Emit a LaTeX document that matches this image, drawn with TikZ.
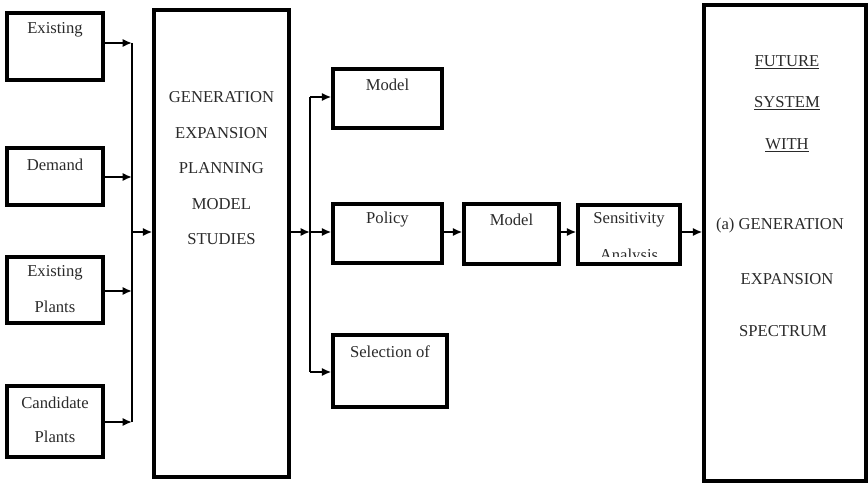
\documentclass[tikz,border=0pt]{standalone}
\usepackage{fontspec}
\setmainfont{Liberation Serif}
\usetikzlibrary{arrows.meta}
\definecolor{txtc}{HTML}{2A2A2A}
\tikzset{
  box/.style={draw=black, line width=2.8pt, inner sep=0pt},
  txt/.style={text=txtc, font=\fontsize{14.2}{16}\selectfont, inner sep=0pt},
  conn/.style={line width=2.3pt, -{Latex[length=8pt,width=7pt]}},
  bus/.style={line width=2.3pt}
}
\newcommand{\bx}[5]{\node[box, minimum width={(#4-#2)*0.03cm}, minimum height={(#5-#3)*0.03cm}] (#1) at ({(#2+#4)/2},{(#3+#5)/2}) {};}
\begin{document}
\begin{tikzpicture}[x=0.03cm,y=-0.03cm]
\useasboundingbox (0,0) rectangle (868,484);
% left input boxes
\bx{ex}{7}{13}{103}{80}
\bx{dem}{7}{148}{103}{205}
\bx{exp}{7}{257}{103}{323}
\bx{cand}{7}{386}{103}{457}
\node[txt] (tex) at (55,30) {Existing};
\node[txt] (tdem) at (55,165) {Demand};
\node[txt] (texp1) at (55,273) {Existing};
\node[txt] (texp2) at (55,307) {Plants};
\node[txt] (tcand1) at (55,403) {Candidate};
\node[txt] (tcand2) at (55,437) {Plants};
% left bus
\coordinate (b1) at (132,43);
\coordinate (b2) at (132,177);
\coordinate (b3) at (132,291);
\coordinate (b4) at (132,422);
\coordinate (bm) at (132,232);
\draw[bus] (b1) -- (b4);
\draw[conn] (ex.east |- b1) -- (b1);
\draw[conn] (dem.east |- b2) -- (b2);
\draw[conn] (exp.east |- b3) -- (b3);
\draw[conn] (cand.east |- b4) -- (b4);
% main box
\bx{main}{154}{10}{289}{477}
\draw[conn] (bm) -- (main.west |- bm);
\node[txt] (m1) at (221.5,97) {GENERATION};
\node[txt] (m2) at (221.5,133) {EXPANSION};
\node[txt] (m3) at (221.5,168) {PLANNING};
\node[txt] (m4) at (221.5,204) {MODEL};
\node[txt] (m5) at (221.5,239) {STUDIES};
% middle bus
\coordinate (c0) at (310,232);
\coordinate (c1) at (310,97);
\coordinate (c3) at (310,372);
\draw[conn] (main.east |- c0) -- (c0);
\draw[bus] (c1) -- (c3);
\bx{mod1}{333}{69}{442}{128}
\bx{pol}{333}{204}{442}{263}
\bx{mod2}{464}{204}{559}{264}
\bx{sens}{578}{205}{680}{264}
\bx{sel}{333}{335}{447}{407}
\draw[conn] (c1) -- (mod1.west |- c1);
\draw[conn] (c0) -- (pol.west |- c0);
\draw[conn] (c3) -- (sel.west |- c3);
\node[txt] (tmod1) at (387.5,85) {Model};
\node[txt] (tpol) at (387.5,220) {Policy};
\node[txt] (tmod2) at (511.5,220) {Model};
\node[txt] (tsens) at (629,220) {Sensitivity};
\begin{scope}
\clip (580,240) rectangle (678,257);
\node[txt, anchor=base] (tana) at (629,261) {Analysis};
\end{scope}
\node[txt] (tsel) at (390,352) {Selection of};
% future box
\bx{fut}{704}{5}{866}{481}
\draw[conn] (pol.east |- c0) -- (mod2.west |- c0);
\draw[conn] (mod2.east |- c0) -- (sens.west |- c0);
\draw[conn] (sens.east |- c0) -- (fut.west |- c0);
\node[txt] (f1) at (787,62) {\underline{FUTURE}};
\node[txt] (f2) at (787,103) {\underline{SYSTEM}};
\node[txt] (f3) at (787,145) {\underline{WITH}};
\node[txt] (f4) at (780,225) {(a) GENERATION};
\node[txt] (f5) at (787,279) {EXPANSION};
\node[txt] (f6) at (783,331) {SPECTRUM};
\end{tikzpicture}
\end{document}
